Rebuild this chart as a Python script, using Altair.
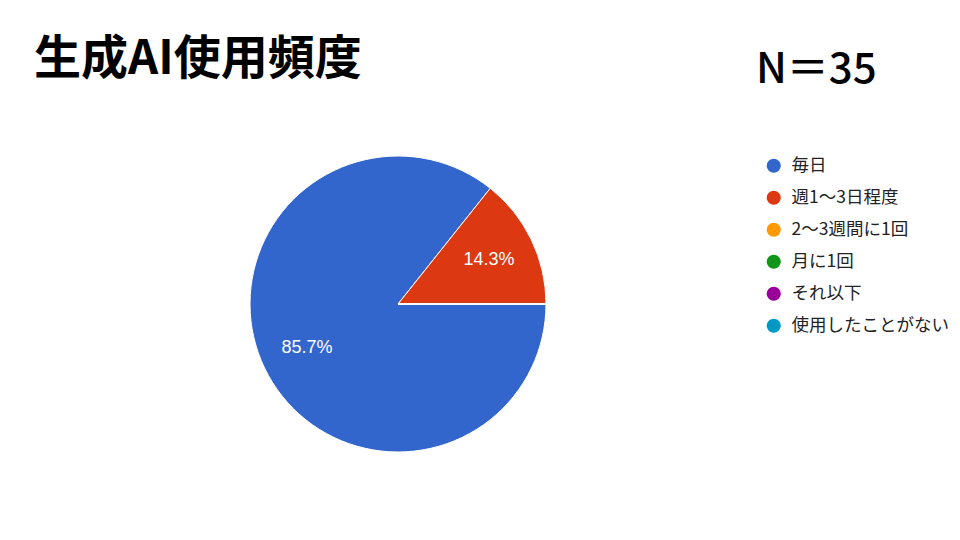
import altair as alt
import pandas as pd
import math

categories = ["毎日", "週1〜3日程度", "2〜3週間に1回", "月に1回", "それ以下", "使用したことがない"]
counts = [30, 5, 0, 0, 0, 0]
colors = ["#3366cc", "#dc3912", "#ff9900", "#109618", "#990099", "#0099c6"]
title_text = "生成AI使用頻度"
n_text = "N＝35"

total = sum(counts)
df = pd.DataFrame({
    "cat": categories,
    "count": counts,
    "order": list(range(len(categories))),
})
df["pct"] = [f"{c / total * 100:.1f}%" if c > 0 else "" for c in counts]

theta_scale = alt.Scale(range=[math.pi / 2, math.pi / 2 + 2 * math.pi])
color_scale = alt.Scale(domain=categories, range=colors)

cx, cy, R = 390, 296, 148

base = alt.Chart(df).encode(
    theta=alt.Theta("count:Q", stack=True, scale=theta_scale),
    order=alt.Order("order:Q"),
)

pie = base.mark_arc(stroke="white", strokeWidth=1).encode(
    color=alt.Color(
        "cat:N",
        scale=color_scale,
        sort=categories,
        legend=alt.Legend(
            title=None,
            orient="none",
            legendX=757,
            legendY=149,
            symbolType="circle",
            symbolSize=200,
            symbolStrokeWidth=0,
            labelFontSize=17.5,
            labelFont="Noto Sans CJK JP",
            labelColor="#222222",
            rowPadding=13,
            labelOffset=9,
            labelLimit=300,
        ),
    ),
    x=alt.value(cx),
    y=alt.value(cy),
    radius=alt.value(R),
)

labels = base.transform_filter("datum.count > 0").mark_text(
    fontSize=18, color="white", font="Liberation Sans"
).encode(
    text="pct:N",
    x=alt.value(cx),
    y=alt.value(cy),
    radius=alt.value(101),
)

title_df = pd.DataFrame({"t": [title_text]})
title = alt.Chart(title_df).mark_text(
    fontSize=47, fontWeight="bold", font="Noto Sans CJK JP", align="left",
    baseline="alphabetic", color="black"
).encode(text="t:N", x=alt.value(26), y=alt.value(66))

n_df = pd.DataFrame({"t": [n_text]})
ntxt = alt.Chart(n_df).mark_text(
    fontSize=42, fontWeight=500, font="Noto Sans CJK JP", align="left",
    baseline="alphabetic", color="black"
).encode(text="t:N", x=alt.value(748), y=alt.value(75))

chart = alt.layer(pie, labels, title, ntxt).properties(
    width=944, height=524,
    autosize=alt.AutoSizeParams(type="fit", contains="padding"),
    padding=0,
).configure_view(strokeWidth=0, stroke="transparent")

chart.save("out.html", embed_options={"renderer": "svg", "actions": False})
